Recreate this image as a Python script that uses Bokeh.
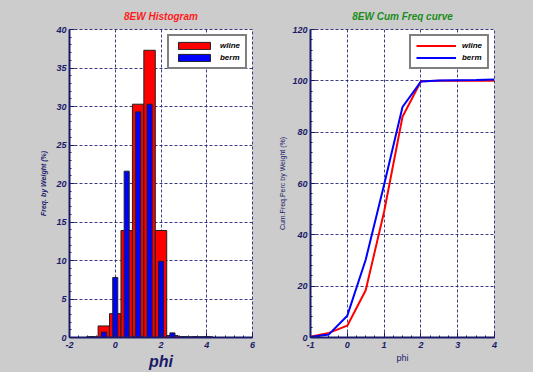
from bokeh.plotting import figure
from bokeh.layouts import row
from bokeh.models import Title, SingleIntervalTicker
from bokeh.embed import file_html
from bokeh.resources import INLINE

# ---- data ----
phi = [-1.0, -0.5, 0.0, 0.5, 1.0, 1.5, 2.0, 2.5, 3.0, 3.5, 4.0]
wline_freq = [0.1, 1.5, 3.1, 13.9, 30.3, 37.3, 13.9, 0.25, 0.1, 0.1, 0.1]
berm_freq = [0.1, 0.7, 7.8, 21.6, 29.3, 30.3, 9.9, 0.6, 0.1, 0.1, 0.1]
wline_cum = [0.3, 1.8, 4.6, 18.4, 49.0, 86.0, 99.8, 100.0, 100.0, 100.0, 100.0]
berm_cum = [0.2, 1.2, 8.5, 30.3, 59.5, 89.8, 99.7, 100.1, 100.2, 100.3, 100.5]

BG = "#cccccc"
NAVY = "#1a1a6a"
FONT = "Liberation Sans"


def style(p, xlabel, ylabel, xlabel_size, xlabel_style, ylabel_style, xt, yt):
    p.background_fill_color = "white"
    p.border_fill_color = BG
    p.outline_line_color = NAVY
    p.outline_line_width = 1
    p.outline_line_dash = "3 2"
    p.outline_line_alpha = 0.85
    p.xaxis[0].ticker = xt
    p.yaxis[0].ticker = yt
    for ax in (p.xaxis[0], p.yaxis[0]):
        ax.axis_line_color = NAVY
        ax.axis_line_width = 2
        ax.major_tick_in = 5
        ax.major_tick_out = 0
        ax.minor_tick_in = 2
        ax.minor_tick_out = 0
        ax.major_tick_line_color = NAVY
        ax.minor_tick_line_color = NAVY
        ax.major_label_text_font = FONT
        ax.major_label_text_font_style = "bold italic"
        ax.major_label_text_font_size = "9px"
        ax.major_label_text_color = NAVY
        ax.axis_label_text_font = FONT
        ax.axis_label_text_color = NAVY
    p.xaxis[0].axis_label = xlabel
    p.xaxis[0].axis_label_text_font_size = xlabel_size
    p.xaxis[0].axis_label_text_font_style = xlabel_style
    p.xaxis[0].axis_label_standoff = 2
    p.xaxis[0].major_label_standoff = 4
    p.yaxis[0].axis_label = ylabel
    p.yaxis[0].axis_label_text_font_size = "7px"
    p.yaxis[0].axis_label_text_font_style = ylabel_style
    p.yaxis[0].major_label_standoff = 3
    p.xgrid[0].ticker = xt
    p.ygrid[0].ticker = yt
    for g in (p.xgrid[0], p.ygrid[0]):
        g.grid_line_color = NAVY
        g.grid_line_dash = "3 2"
        g.grid_line_width = 1
        g.grid_line_alpha = 0.85


def style_legend(p):
    lg = p.legend[0]
    lg.location = "top_right"
    lg.border_line_color = "black"
    lg.border_line_width = 2
    lg.background_fill_color = "white"
    lg.background_fill_alpha = 1
    lg.label_text_font = FONT
    lg.label_text_font_style = "bold italic"
    lg.label_text_font_size = "8px"
    lg.label_text_color = "black"
    lg.glyph_width = 40
    lg.glyph_height = 9
    lg.label_height = 9
    lg.label_standoff = 6
    lg.spacing = 3
    lg.padding = 5
    lg.margin = 5


# ---- left: histogram ----
p1 = figure(width=274, height=372, x_range=(-2, 6), y_range=(0, 40),
            output_backend="svg", toolbar_location=None,
            min_border_left=69, min_border_right=22, min_border_top=29, min_border_bottom=33)
p1.title = Title(text="8EW Histogram", align="center", text_color="#ff1a1a",
                 text_font=FONT, text_font_style="bold italic", text_font_size="10px",
                 standoff=16)
p1.vbar(x=phi, top=wline_freq, width=0.5, fill_color="#ff0000", line_color="#202020",
        line_width=1, legend_label="wline")
p1.vbar(x=phi, top=berm_freq, width=0.22, fill_color="#0000ff", line_color="#202020",
        line_width=1, legend_label="berm")
style(p1, "phi", "Freq. by Weight (%)", "16px", "bold italic", "bold italic",
      SingleIntervalTicker(interval=2, num_minor_ticks=5),
      SingleIntervalTicker(interval=5, num_minor_ticks=5))
p1.xaxis[0].major_label_overrides = {-2: "-2"}
p1.yaxis[0].axis_label_standoff = 6
style_legend(p1)

# ---- right: cumulative ----
p2 = figure(width=259, height=372, x_range=(-1, 4), y_range=(0, 120),
            output_backend="svg", toolbar_location=None,
            min_border_left=36, min_border_right=39, min_border_top=29, min_border_bottom=33)
p2.title = Title(text="8EW Cum Freq curve", align="center", text_color="#1a8c1a",
                 text_font=FONT, text_font_style="bold italic", text_font_size="10px",
                 standoff=16)
p2.line(phi, wline_cum, line_color="#ff0000", line_width=2, legend_label="wline")
p2.line(phi, berm_cum, line_color="#0000ff", line_width=2, legend_label="berm")
style(p2, "phi", "Cum.Freq.Perc by Weight (%)", "9px", "normal", "normal",
      SingleIntervalTicker(interval=1, num_minor_ticks=4),
      SingleIntervalTicker(interval=20, num_minor_ticks=5))
p2.xaxis[0].major_label_overrides = {-1: "-1"}
p2.yaxis[0].axis_label_standoff = 3
style_legend(p2)

layout = row(p1, p2)
layout.styles = {"background-color": BG}

open("out.html", "w").write(file_html(layout, INLINE))
